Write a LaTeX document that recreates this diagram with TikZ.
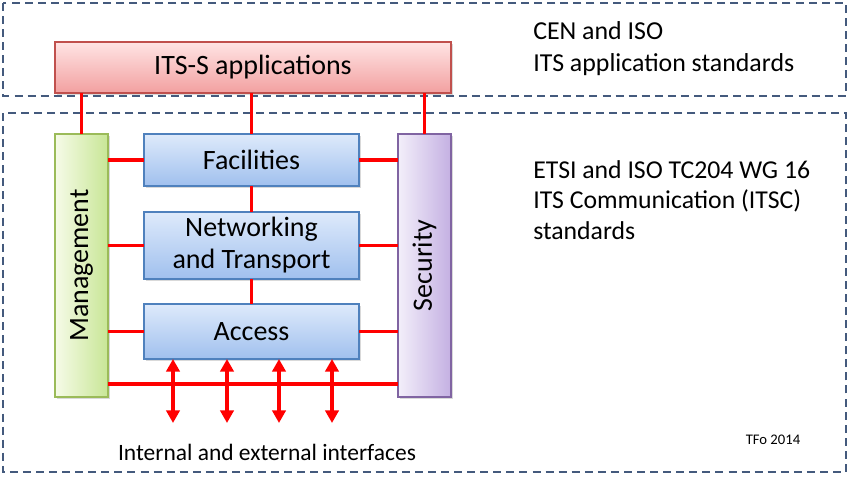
\documentclass[tikz,border=0pt]{standalone}
\usepackage{fontspec}
\setmainfont{Carlito}
\usepackage{graphicx}
\usepackage{tikz}
\usetikzlibrary{arrows.meta,shadows}

\definecolor{framecol}{RGB}{68,90,125}
\definecolor{appline}{RGB}{192,80,77}
\definecolor{apptop}{RGB}{255,228,228}
\definecolor{appbot}{RGB}{242,160,160}
\definecolor{layline}{RGB}{79,129,189}
\definecolor{laytop}{RGB}{222,234,251}
\definecolor{laybot}{RGB}{160,192,238}
\definecolor{mgmtline}{RGB}{155,187,89}
\definecolor{mgmtleft}{RGB}{246,251,232}
\definecolor{mgmtright}{RGB}{200,230,150}
\definecolor{secline}{RGB}{128,100,162}
\definecolor{secleft}{RGB}{243,239,250}
\definecolor{secright}{RGB}{196,176,226}

\begin{document}
\begin{tikzpicture}[x=0.75pt, y=-0.75pt,
  frame/.style={draw=framecol, line width=1.9pt, dash pattern=on 6pt off 3.8pt},
  block/.style={draw, line width=1.1pt, outer sep=0pt, inner sep=2pt, align=center,
    font=\fontsize{21}{24}\selectfont,
    drop shadow={opacity=0.3, shadow xshift=1.2pt, shadow yshift=-1.5pt}},
  appbox/.style={block, draw=appline, top color=apptop, bottom color=appbot},
  laybox/.style={block, draw=layline, top color=laytop, bottom color=laybot,
    minimum width=161.25pt},
  mgmtbox/.style={block, draw=mgmtline, left color=mgmtleft, right color=mgmtright,
    minimum width=39.75pt, minimum height=197.25pt},
  secbox/.style={block, draw=secline, left color=secleft, right color=secright,
    minimum width=39.75pt, minimum height=197.25pt},
  link/.style={draw=red, line width=2.4pt},
  iface/.style={link, {Triangle[width=10pt,length=9.5pt]}-{Triangle[width=10pt,length=9.5pt]}},
  note/.style={anchor=west, align=left, inner sep=0pt, font=\fontsize{19.4}{24}\selectfont}
]
  \useasboundingbox (0,0) rectangle (848,480);

  % standard groups
  \draw[frame] (3,3) rectangle (846,96);
  \draw[frame] (3,113) rectangle (846,472);

  \node[appbox, minimum width=297pt, minimum height=38.25pt] (app) at (253,67.5) {ITS-S applications};
  \node[mgmtbox] (mgmt) at (81.5,265.5) {\rotatebox{90}{Management}};
  \node[secbox] (sec) at (424.5,265.5) {\rotatebox{90}{Security}};
  \node[laybox, minimum height=39pt] (fac) at (251.5,160) {Facilities};
  \node[laybox, minimum height=50.25pt] (net) at (251.5,245.5) {Networking\\and Transport};
  \node[laybox, minimum height=41.25pt] (acc) at (251.5,331.5) {Access};

  \draw[link] (mgmt.north) -- (mgmt.north |- app.south);
  \draw[link] (fac.north) -- (fac.north |- app.south);
  \draw[link] (sec.north) -- (sec.north |- app.south);
  \draw[link] (fac.south) -- (net.north);
  \draw[link] (net.south) -- (acc.north);
  \foreach \n in {fac,net,acc} {
    \draw[link] (\n.west) -- (\n.west -| mgmt.east);
    \draw[link] (\n.east) -- (\n.east -| sec.west);
  }
  \coordinate (busL) at (mgmt.east |- 0,384);
  \coordinate (busR) at (sec.west |- 0,384);
  \draw[link] (busL) -- (busR);

  \foreach \x [count=\i] in {173,227,279,332} {
    \coordinate (ifc\i) at (\x,423);
    \draw[iface] (acc.south -| ifc\i) -- (ifc\i);
  }

  \node[font=\fontsize{17.6}{22}\selectfont] (ifaces) at (267,452) {Internal and external interfaces};
  \node[note] (cen) at (533,49) {CEN and ISO\\ITS application standards};
  \node[note, font=\fontsize{19.3}{23}\selectfont] (etsi) at (533,200) {ETSI and ISO TC204 WG 16\\ITS Communication (ITSC)\\standards};
  \node[font=\fontsize{11}{13}\selectfont] (tfo) at (773,440) {TFo 2014};
\end{tikzpicture}
\end{document}
